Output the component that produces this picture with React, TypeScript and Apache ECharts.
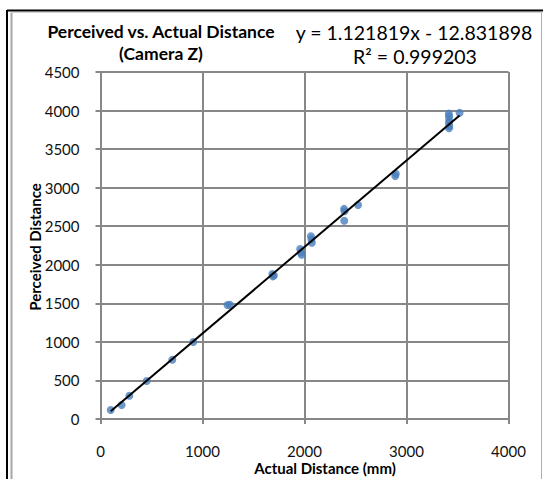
import React, { useEffect, useRef } from "react";
import * as echarts from "echarts";

const actualDistance = [100, 207, 283, 453, 704, 910, 1245, 1268, 1685, 1690, 1700, 1958, 1965, 1972, 2063, 2068, 2072, 2388, 2392, 2390, 2525, 2890, 2895, 3415, 3417, 3418, 3416, 3419, 3417, 3520];
const perceivedDistance = [117, 182, 302, 493, 769, 999, 1478, 1482, 1880, 1850, 1862, 2205, 2160, 2130, 2370, 2330, 2285, 2725, 2695, 2572, 2775, 3150, 3180, 3960, 3925, 3885, 3840, 3800, 3770, 3970];
const slope = 1.121819;
const intercept = -12.831898;
const titleLines = ["Perceived vs. Actual Distance", "(Camera Z)"];
const equationText = "y = 1.121819x - 12.831898";
const r2Text = "R² = 0.999203";
const xAxisTitle = "Actual Distance (mm)";
const yAxisTitle = "Perceived Distance";

const FONT = "Lato, 'Noto Sans', sans-serif";

export default function App() {
  const ref = useRef<HTMLDivElement>(null);
  useEffect(() => {
    if (!ref.current) return;
    const chart = echarts.init(ref.current, undefined, { renderer: "svg" });
    const pts = actualDistance.map((x, i) => [x, perceivedDistance[i]]);
    const xmin = Math.min(...actualDistance);
    const xmax = Math.max(...actualDistance);
    const trend = [
      [xmin, slope * xmin + intercept],
      [xmax, slope * xmax + intercept],
    ];
    const gridColor = "#878787";
    chart.setOption({
      animation: false,
      backgroundColor: "#ffffff",
      grid: { left: 100.5, right: 34.5, top: 72, bottom: 60, containLabel: false },
      xAxis: {
        type: "value",
        min: 0,
        max: 4000,
        interval: 1000,
        axisLine: { show: true, onZero: false, lineStyle: { color: gridColor, width: 2 } },
        axisTick: { show: true, length: 5, lineStyle: { color: gridColor, width: 2 } },
        axisLabel: { color: "#111", fontFamily: FONT, fontSize: 15, margin: 24, formatter: (v: number) => String(v) },
        splitLine: { show: true, lineStyle: { color: gridColor, width: 2 } },
      },
      yAxis: {
        type: "value",
        min: 0,
        max: 4500,
        interval: 500,
        axisLine: { show: true, onZero: false, lineStyle: { color: gridColor, width: 2 } },
        axisTick: { show: true, length: 5, lineStyle: { color: gridColor, width: 2 } },
        axisLabel: { color: "#111", fontFamily: FONT, fontSize: 15, margin: 21, formatter: (v: number) => String(v) },
        splitLine: { show: true, lineStyle: { color: gridColor, width: 2 } },
      },
      series: [
        {
          type: "scatter",
          data: pts,
          symbol: "circle",
          symbolSize: 8,
          itemStyle: { color: "#4a7ebb" },
          z: 2,
        },
        {
          type: "line",
          data: trend,
          symbol: "none",
          lineStyle: { color: "#000000", width: 2 },
          z: 3,
        },
      ],
      graphic: [
        { type: "line", shape: { x1: 7, y1: 10.5, x2: 543, y2: 10.5 }, style: { stroke: "#000", lineWidth: 2 } },
        { type: "line", shape: { x1: 7, y1: 10, x2: 7, y2: 479 }, style: { stroke: "#000", lineWidth: 2 } },
        { type: "line", shape: { x1: 11.5, y1: 12.5, x2: 11.5, y2: 479 }, style: { stroke: "#a6a6a6", lineWidth: 2 } },
        { type: "line", shape: { x1: 11.5, y1: 12.5, x2: 541, y2: 12.5 }, style: { stroke: "#d0d0d0", lineWidth: 1 } },
        { type: "line", shape: { x1: 541.5, y1: 11, x2: 541.5, y2: 479 }, style: { stroke: "#b0b0b0", lineWidth: 1 } },
        {
          type: "text",
          x: 161,
          y: 31,
          style: { text: titleLines[0], fill: "#000", font: `bold 17.5px ${FONT}`, align: "center", verticalAlign: "middle" },
        },
        {
          type: "text",
          x: 161,
          y: 53,
          style: { text: titleLines[1], fill: "#000", font: `bold 17.5px ${FONT}`, align: "center", verticalAlign: "middle" },
        },
        {
          type: "text",
          x: 414,
          y: 32,
          style: { text: equationText, fill: "#000", font: `19.5px ${FONT}`, align: "center", verticalAlign: "middle" },
        },
        {
          type: "text",
          x: 415,
          y: 56,
          style: { text: r2Text, fill: "#000", font: `19.5px ${FONT}`, align: "center", verticalAlign: "middle" },
        },
        {
          type: "text",
          x: 325,
          y: 468,
          style: { text: xAxisTitle, fill: "#000", font: `bold 15px ${FONT}`, align: "center", verticalAlign: "middle" },
        },
        {
          type: "text",
          x: 35,
          y: 247,
          rotation: Math.PI / 2,
          style: { text: yAxisTitle, fill: "#000", font: `bold 15px ${FONT}`, align: "center", verticalAlign: "middle" },
        },
      ],
    });
    return () => chart.dispose();
  }, []);
  return (
    <div
      ref={ref}
      style={{ position: "fixed", left: 0, top: 0, width: 543, height: 479, background: "#fff" }}
    />
  );
}
